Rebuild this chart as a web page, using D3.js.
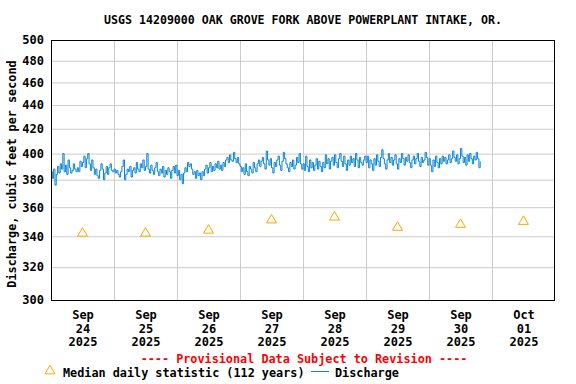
<!DOCTYPE html>
<html>
<head>
<meta charset="utf-8">
<script src="https://cdn.jsdelivr.net/npm/d3@7"></script>
<style>
  body { margin: 0; background: #fff; }
  text { font-family: "DejaVu Sans Mono", monospace; font-weight: bold; }
</style>
</head>
<body>
<div id="chart"></div>
<script>
// Days shown on the x axis (labels at noon)
let dayLabels = [["Sep","24","2025"],["Sep","25","2025"],["Sep","26","2025"],["Sep","27","2025"],
                 ["Sep","28","2025"],["Sep","29","2025"],["Sep","30","2025"],["Oct","01","2025"]];
let yTicks = [300, 320, 340, 360, 380, 400, 420, 440, 460, 480, 500];

// Median daily statistic (112 years), one per day
let medianValues = [342, 342, 344, 351, 353, 346, 348, 350];

// Discharge, cfs, every 30 minutes from Sep 24 00:00
let discharge = [
  // Sep 24
  386,381,388,376,384,390,385,392,388,400,386,391,384,395,389,385,387,392,388,386,389,386,394,390,
  393,398,389,396,400,392,387,395,389,384,388,383,381,387,392,388,380,385,390,384,389,392,387,386,
  // Sep 25
  388,385,387,384,382,386,390,395,380,384,388,386,390,382,387,389,385,393,388,386,392,389,395,387,
  390,400,388,385,391,387,384,389,393,386,383,388,385,390,382,387,384,389,386,381,387,390,385,391,
  // Sep 26
  383,387,380,384,377,385,389,386,393,390,392,388,384,386,381,387,383,385,380,386,383,388,391,385,
  389,393,386,390,387,392,389,394,388,391,387,393,390,395,397,393,399,395,394,401,396,393,397,392,
  // Sep 27
  390,386,389,384,392,386,383,390,388,385,393,389,386,392,395,390,394,397,392,388,402,395,391,396,
  389,385,393,390,395,398,391,387,394,401,396,392,389,386,393,390,395,388,391,397,393,400,392,388,
  // Sep 28
  392,387,398,390,386,395,389,393,387,391,396,388,394,390,386,393,389,399,392,396,388,394,397,391,
  399,393,389,396,400,394,390,398,392,387,395,391,398,393,396,390,400,395,389,397,393,391,395,398,
  // Sep 29
  393,398,389,395,392,387,396,391,399,394,390,397,403,396,392,388,395,400,393,397,391,395,399,392,
  388,396,393,400,396,391,397,394,399,393,389,395,398,392,396,400,394,390,397,393,395,401,397,391,
  // Sep 30
  396,391,386,395,390,398,393,389,396,392,398,394,397,392,395,399,393,396,402,397,394,399,392,396,
  404,398,393,397,391,399,394,400,396,392,398,395,401,396,389,394
];

let startDate = new Date(2025, 8, 24);
let endDate = new Date(2025, 9, 2);
let halfHour = 30 * 60 * 1000;
let blue = "#0a84d6";

let dim = { top: 40, right: 21, bottom: 84, left: 51 };
let width = 576 - dim.left - dim.right;
let height = 384 - dim.top - dim.bottom;

let svg = d3.select("#chart")
  .append("svg")
  .attr("width", 576)
  .attr("height", 384);

let g = svg.append("g")
  .attr("transform", "translate(" + dim.left + "," + dim.top + ")");

let x = d3.scaleTime()
  .domain([startDate, endDate])
  .range([0, width]);

let y = d3.scaleLog()
  .domain([300, 500])
  .range([height, 0]);

let midnights = d3.timeDay.range(d3.timeDay.offset(startDate, 1), endDate);
let noons = dayLabels.map((d, i) => d3.timeHour.offset(d3.timeDay.offset(startDate, i), 12));

// Vertical grid
g.append("g")
  .attr("transform", "translate(0," + height + ")")
  .call(d3.axisBottom(x).tickValues(midnights).tickSize(-height).tickFormat(""))
  .call(a => a.select(".domain").remove())
  .call(a => a.selectAll("line").attr("stroke", "#cccccc"));

// Horizontal grid
g.append("g")
  .call(d3.axisLeft(y).tickValues(yTicks.slice(1, -1)).tickSize(-width).tickFormat(""))
  .call(a => a.select(".domain").remove())
  .call(a => a.selectAll("line").attr("stroke", "#cccccc"));

// Y tick labels
g.append("g")
  .call(d3.axisLeft(y).tickValues(yTicks).tickSize(0).tickPadding(7).tickFormat(d3.format("d")))
  .call(a => a.select(".domain").remove())
  .call(a => a.selectAll("text")
    .attr("fill", "#000")
    .style("font-size", "12px")
    .style("font-family", "DejaVu Sans Mono")
    .style("font-weight", "bold"));

// X tick labels, three lines each
let xa = g.append("g")
  .attr("transform", "translate(0," + height + ")")
  .call(d3.axisBottom(x).tickValues(noons).tickSize(0).tickFormat(""));
xa.select(".domain").remove();
xa.selectAll(".tick text").remove();
xa.selectAll(".tick").each(function(d, i) {
  let t = d3.select(this).append("text")
    .attr("text-anchor", "middle")
    .attr("fill", "#000")
    .style("font-size", "12px");
  dayLabels[i].forEach((s, k) => {
    t.append("tspan").attr("x", 0).attr("y", 19 + k * 13.5).text(s);
  });
});

// Discharge line
let line = d3.line()
  .x((d, i) => x(new Date(startDate.getTime() + i * halfHour)))
  .y(d => y(d))
  .curve(d3.curveStepAfter);

g.append("path")
  .datum(discharge)
  .attr("fill", "none")
  .attr("stroke", blue)
  .attr("stroke-width", 1)
  .attr("d", line);

// Median triangles
let tri = d3.symbol().type(d3.symbolTriangle).size(42);
g.selectAll(".median")
  .data(medianValues)
  .enter()
  .append("path")
  .attr("class", "median")
  .attr("d", tri)
  .attr("transform", (d, i) => "translate(" + x(noons[i]) + "," + y(d) + ")")
  .attr("fill", "none")
  .attr("stroke", "#ffa500")
  .attr("stroke-width", 1);

// Frame
g.append("rect")
  .attr("x", 0.5)
  .attr("y", 0.5)
  .attr("width", width - 1)
  .attr("height", height)
  .attr("fill", "none")
  .attr("stroke", "#000")
  .attr("stroke-width", 1);

// Title
svg.append("text")
  .attr("x", dim.left + width / 2)
  .attr("y", 24)
  .attr("text-anchor", "middle")
  .style("font-size", "11.6px")
  .text("USGS 14209000 OAK GROVE FORK ABOVE POWERPLANT INTAKE, OR.");

// Y label
svg.append("text")
  .attr("transform", "translate(16," + (dim.top + height / 2 + 4) + ") rotate(-90)")
  .attr("text-anchor", "middle")
  .style("font-size", "11.8px")
  .text("Discharge, cubic feet per second");

// Provisional note
svg.append("text")
  .attr("x", 304)
  .attr("y", 363)
  .attr("text-anchor", "middle")
  .attr("fill", "#ff0000")
  .style("font-size", "11.8px")
  .text("---- Provisional Data Subject to Revision ----");

// Legend
svg.append("path")
  .attr("d", tri)
  .attr("transform", "translate(50,371)")
  .attr("fill", "none")
  .attr("stroke", "#ffa500");
svg.append("text")
  .attr("x", 63)
  .attr("y", 377)
  .style("font-size", "11.8px")
  .text("Median daily statistic (112 years)");
svg.append("line")
  .attr("x1", 311).attr("x2", 329)
  .attr("y1", 371.5).attr("y2", 371.5)
  .attr("stroke", blue)
  .attr("stroke-width", 1);
svg.append("text")
  .attr("x", 335)
  .attr("y", 377)
  .style("font-size", "11.8px")
  .text("Discharge");
</script>
</body>
</html>
